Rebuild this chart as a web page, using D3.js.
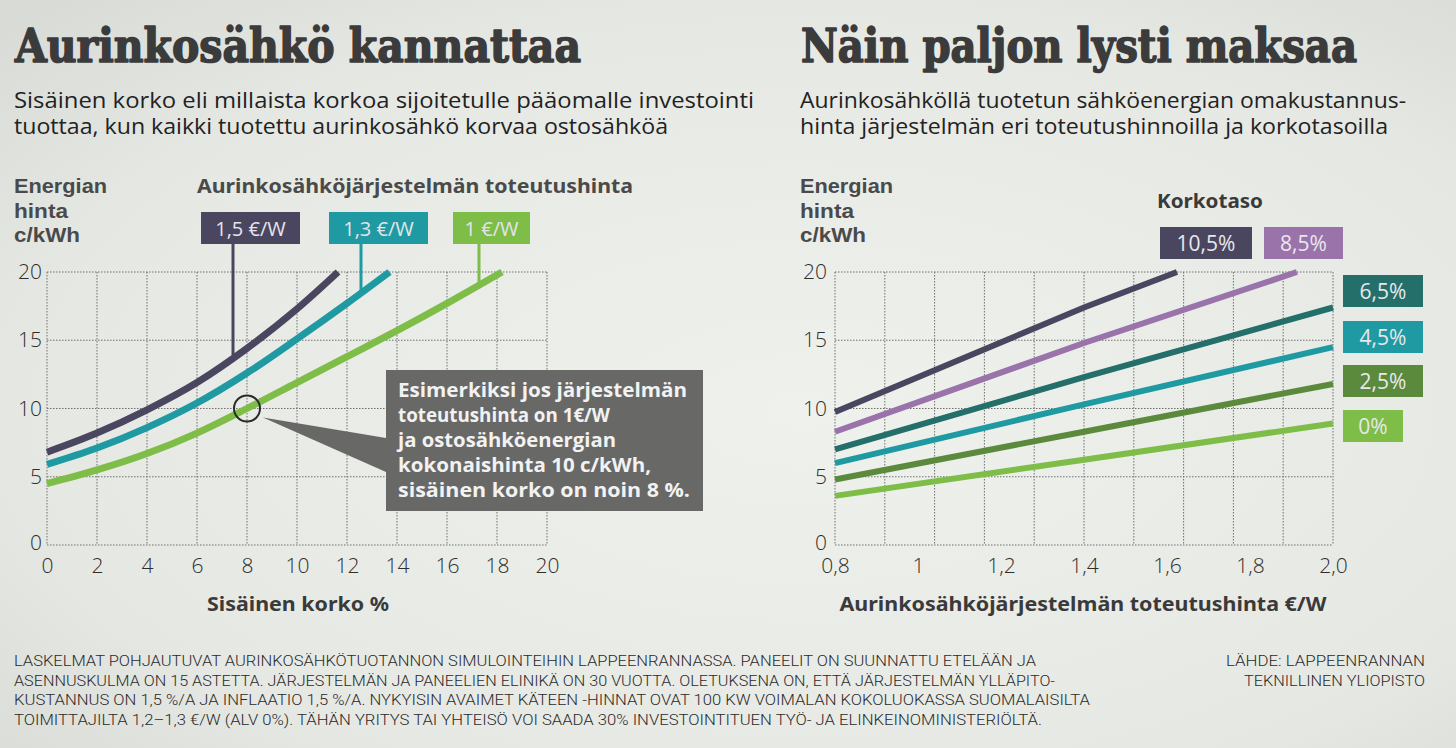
<!DOCTYPE html>
<html><head><meta charset="utf-8">
<script src="https://cdn.jsdelivr.net/npm/d3@7"></script>
<style>html,body{margin:0;padding:0;background:#e8eae6;} svg{display:block}</style>
</head><body><svg id="c" width="1456" height="748"></svg>
<script>
// ---------------- DATA ----------------
// Left chart: energy price (c/kWh) vs internal rate of return (%)
const leftXTicks = [0, 2, 4, 6, 8, 10, 12, 14, 16, 18, 20];
const leftYTicks = [0, 5, 10, 15, 20];
const leftSeriesNames = ["1,5 €/W", "1,3 €/W", "1 €/W"];
const cost15_x = [0, 2, 4, 6, 8, 10, 11.64];
const cost15_y = [6.8, 8.2, 9.9, 11.9, 14.4, 17.3, 20];
const cost13_x = [0, 2, 4, 6, 8, 10, 12, 13.7];
const cost13_y = [5.9, 7.1, 8.6, 10.4, 12.6, 15.1, 17.7, 20];
const cost10_x = [0, 2, 4, 6, 8, 10, 12, 14, 16, 18.2];
const cost10_y = [4.5, 5.5, 6.7, 8.2, 10.0, 11.9, 13.8, 15.7, 17.7, 20];
const leaderX = [7.44, 12.56, 17.28];
const leaderY = [13.9, 18.4, 19.0];
const exampleX = 8, exampleY = 10;

// Right chart: energy price (c/kWh) vs system price (€/W)
const rightXTicks = [0.8, 1.0, 1.2, 1.4, 1.6, 1.8, 2.0];
const rightXLabels = ["0,8", "1", "1,2", "1,4", "1,6", "1,8", "2,0"];
const rightGridX = [0.8, 0.92, 1.04, 1.16, 1.28, 1.40, 1.52, 1.64, 1.76, 1.88, 2.0];
const rightYTicks = [0, 5, 10, 15, 20];
const rateNames = ["10,5%", "8,5%", "6,5%", "4,5%", "2,5%", "0%"];
const rate105_x = [0.8, 1.4, 1.624];
const rate105_y = [9.75, 17.4, 20];
const rate85_x = [0.8, 1.4, 1.913];
const rate85_y = [8.3, 14.8, 20];
const rate65_x = [0.8, 1.4, 2.0];
const rate65_y = [7.0, 12.3, 17.4];
const rate45_x = [0.8, 1.4, 2.0];
const rate45_y = [6.0, 10.3, 14.5];
const rate25_x = [0.8, 1.4, 2.0];
const rate25_y = [4.8, 8.3, 11.8];
const rate0_x = [0.8, 1.4, 2.0];
const rate0_y = [3.6, 6.25, 8.9];

// ---------------- STYLE ----------------
const C = {
  dpurple: "#4b4660", purple: "#9a73aa", dteal: "#246f6a", teal: "#1f9aa2",
  olive: "#5b8a3d", green: "#7dbd48", text: "#333", title: "#3b3b3b"
};

const svg = d3.select("#c");
const defs = svg.append("defs");
const rg = defs.append("radialGradient").attr("id", "paper").attr("cx", "55%").attr("cy", "55%").attr("r", "75%");
rg.append("stop").attr("offset", "0%").attr("stop-color", "#eff1ed");
rg.append("stop").attr("offset", "70%").attr("stop-color", "#e6e8e4");
rg.append("stop").attr("offset", "100%").attr("stop-color", "#d9dbd7");
svg.append("rect").attr("width", 1456).attr("height", 748).attr("fill", "url(#paper)");

function txt(x, y, s, o = {}) {
  const t = svg.append("text").attr("x", x).attr("y", y).text(s)
    .attr("font-family", o.family || "'Open Sans', sans-serif")
    .attr("font-size", o.size || 19)
    .attr("font-weight", o.weight || 400)
    .attr("fill", o.fill || C.text)
    .attr("text-anchor", o.anchor || "start");
  if (o.len) t.attr("textLength", o.len).attr("lengthAdjust", "spacingAndGlyphs");
  if (o.stroke) t.attr("stroke", o.fill).attr("stroke-width", o.stroke).attr("stroke-linejoin", "round");
  return t;
}

// ---------------- TITLES ----------------
const titleFont = "'DejaVu Serif', serif";
txt(15, 62, "Aurinkosähkö kannattaa", {family: titleFont, size: 46, weight: 700, fill: C.title, len: 566, stroke: 1.6});
txt(801, 62, "Näin paljon lysti maksaa", {family: titleFont, size: 46, weight: 700, fill: C.title, len: 556, stroke: 1.6});
const subO = {size: 21, weight: 400, fill: "#222"};
txt(14, 108, "Sisäinen korko eli millaista korkoa sijoitetulle pääomalle investointi", {...subO, len: 740});
txt(14, 134, "tuottaa, kun kaikki tuotettu aurinkosähkö korvaa ostosähköä", {...subO, len: 654});
txt(800, 108, "Aurinkosähköllä tuotetun sähköenergian omakustannus-", {...subO, len: 606});
txt(800, 134, "hinta järjestelmän eri toteutushinnoilla ja korkotasoilla", {...subO, len: 588});

// ---------------- COMMON ----------------
const yTop = 272, yBot = 545;
function grid(g, xs, xScale, yScale, yTicks) {
  const gridStyle = sel => sel.attr("stroke", "#6f6f6f").attr("stroke-width", 1).attr("stroke-dasharray", "1.5,1.5").attr("fill", "none");
  g.selectAll(".vg").data(xs).enter().append("line")
    .attr("x1", d => xScale(d)).attr("x2", d => xScale(d))
    .attr("y1", yScale(20)).attr("y2", yScale(0)).call(gridStyle);
  g.selectAll(".hg").data(yTicks).enter().append("line")
    .attr("y1", d => yScale(d)).attr("y2", d => yScale(d))
    .attr("x1", xScale.range()[0]).attr("x2", xScale.range()[1]).call(gridStyle);
}
const boldFont = "'Noto Sans', sans-serif";
function yTitle(x) {
  const o = {size: 20, weight: 700, fill: "#4a4a4a", family: "'Liberation Sans', Arial, sans-serif"};
  txt(x, 193, "Energian", {...o, len: 93});
  txt(x, 218, "hinta", {...o, len: 54});
  txt(x, 242, "c/kWh", {...o, len: 66});
}
const tickFont = {size: 21, weight: 300, fill: "#2e2e2e", family: "'Open Sans', sans-serif"};
function styleTicks(g) {
  g.select(".domain").remove();
  g.selectAll("text").attr("font-family", tickFont.family).attr("font-size", tickFont.size)
    .attr("font-weight", tickFont.weight).attr("fill", tickFont.fill);
}

// ---------------- LEFT CHART ----------------
const xL = d3.scaleLinear().domain([0, 20]).range([47, 547]);
const yL = d3.scaleLinear().domain([0, 20]).range([yBot, yTop]);
const gL = svg.append("g");
grid(gL, leftXTicks, xL, yL, leftYTicks);

const gyL = svg.append("g").attr("transform", "translate(47,0)")
  .call(d3.axisLeft(yL).tickValues(leftYTicks).tickSize(0).tickPadding(5));
styleTicks(gyL);
gyL.selectAll(".tick").filter(d => d === 0).select("text").attr("dy", "0.2em");
const gxL = svg.append("g").attr("transform", `translate(0,${yBot})`)
  .call(d3.axisBottom(xL).tickValues(leftXTicks).tickSize(0).tickPadding(13));
styleTicks(gxL);

yTitle(14);
txt(197, 193, "Aurinkosähköjärjestelmän toteutushinta", {size: 19, weight: 700, fill: "#4a4a4a", family: boldFont, len: 436});
txt(298, 611, "Sisäinen korko %", {size: 20, weight: 700, fill: "#3a3a3a", family: boldFont, anchor: "middle", len: 182});

const leftSeries = [
  {name: leftSeriesNames[0], xs: cost15_x, ys: cost15_y, color: C.dpurple, box: [201, 300]},
  {name: leftSeriesNames[1], xs: cost13_x, ys: cost13_y, color: C.teal, box: [329, 428]},
  {name: leftSeriesNames[2], xs: cost10_x, ys: cost10_y, color: C.green, box: [453, 530]}
];
const lineL = d3.line().x(d => xL(d[0])).y(d => yL(d[1])).curve(d3.curveCatmullRom.alpha(0.5));
leftSeries.forEach((s, i) => {
  // leader line
  gL.append("line").attr("x1", xL(leaderX[i])).attr("x2", xL(leaderX[i]))
    .attr("y1", 244).attr("y2", yL(leaderY[i])).attr("stroke", s.color).attr("stroke-width", 3);
  gL.append("path").datum(d3.zip(s.xs, s.ys)).attr("d", lineL)
    .attr("fill", "none").attr("stroke", s.color).attr("stroke-width", 7);
  gL.append("rect").attr("x", s.box[0]).attr("y", 212).attr("width", s.box[1] - s.box[0]).attr("height", 32).attr("fill", s.color);
  txt((s.box[0] + s.box[1]) / 2, 236, s.name, {size: 20, weight: 400, fill: "#e4e4ea", anchor: "middle"});
});

// example callout
const cx = xL(exampleX), cy = yL(exampleY);
gL.append("path").attr("d", `M${cx + 16},${cy + 9} L386,438 L386,472 Z`).attr("fill", "#686967");
gL.append("circle").attr("cx", cx).attr("cy", cy).attr("r", 13).attr("fill", "none").attr("stroke", "#2a2a2a").attr("stroke-width", 2);
gL.append("rect").attr("x", 386).attr("y", 370).attr("width", 317).attr("height", 141).attr("fill", "#686967");
const calloutLines = ["Esimerkiksi jos järjestelmän", "toteutushinta on 1€/W", "ja ostosähköenergian", "kokonaishinta 10 c/kWh,", "sisäinen korko on noin 8 %."];
const calloutLens = [289, 212, 218, 253, 292];
calloutLines.forEach((l, i) => txt(398, 397 + i * 25, l, {size: 20, weight: 700, fill: "#f2f2f2", len: calloutLens[i]}));

// ---------------- RIGHT CHART ----------------
const xR = d3.scaleLinear().domain([0.8, 2.0]).range([835, 1333]);
const yR = d3.scaleLinear().domain([0, 20]).range([yBot, yTop]);
const gR = svg.append("g");
grid(gR, rightGridX, xR, yR, rightYTicks);

const gyR = svg.append("g").attr("transform", "translate(835,0)")
  .call(d3.axisLeft(yR).tickValues(rightYTicks).tickSize(0).tickPadding(8));
styleTicks(gyR);
gyR.selectAll(".tick").filter(d => d === 0).select("text").attr("dy", "0.2em");
const gxR = svg.append("g").attr("transform", `translate(0,${yBot})`)
  .call(d3.axisBottom(xR).tickValues(rightXTicks).tickFormat((d, i) => rightXLabels[i]).tickSize(0).tickPadding(13));
styleTicks(gxR);

yTitle(800);
txt(1157, 208, "Korkotaso", {size: 19, weight: 700, fill: "#3a3a3a", family: boldFont, len: 106});
txt(1083, 611, "Aurinkosähköjärjestelmän toteutushinta €/W", {size: 20, weight: 700, fill: "#3a3a3a", family: boldFont, anchor: "middle", len: 487});

const rightSeries = [
  {xs: rate105_x, ys: rate105_y, color: C.dpurple, box: [1160, 227, 92]},
  {xs: rate85_x, ys: rate85_y, color: C.purple, box: [1264, 227, 79]},
  {xs: rate65_x, ys: rate65_y, color: C.dteal, box: [1343, 275, 80]},
  {xs: rate45_x, ys: rate45_y, color: C.teal, box: [1343, 321, 80]},
  {xs: rate25_x, ys: rate25_y, color: C.olive, box: [1343, 365, 80]},
  {xs: rate0_x, ys: rate0_y, color: C.green, box: [1343, 410, 60]}
];
const lineR = d3.line().x(d => xR(d[0])).y(d => yR(d[1]));
rightSeries.forEach((s, i) => {
  gR.append("path").datum(d3.zip(s.xs, s.ys)).attr("d", lineR)
    .attr("fill", "none").attr("stroke", s.color).attr("stroke-width", 6);
  gR.append("rect").attr("x", s.box[0]).attr("y", s.box[1]).attr("width", s.box[2]).attr("height", 32).attr("fill", s.color);
  txt(s.box[0] + s.box[2] / 2, s.box[1] + 24, rateNames[i], {size: 21, weight: 400, fill: "#e8e8ec", anchor: "middle"});
});

// ---------------- FOOTER ----------------
const footFont = {size: 14, weight: 300, fill: "#2a2a2a", family: "'Liberation Sans Narrow', 'Roboto', sans-serif"};
const footLines = [
  "LASKELMAT  POHJAUTUVAT AURINKOSÄHKÖTUOTANNON SIMULOINTEIHIN LAPPEENRANNASSA. PANEELIT ON SUUNNATTU ETELÄÄN JA",
  "ASENNUSKULMA ON 15 ASTETTA. JÄRJESTELMÄN JA PANEELIEN ELINIKÄ ON 30 VUOTTA. OLETUKSENA ON, ETTÄ JÄRJESTELMÄN YLLÄPITO-",
  "KUSTANNUS ON 1,5 %/A JA INFLAATIO 1,5 %/A. NYKYISIN AVAIMET KÄTEEN -HINNAT OVAT 100 KW VOIMALAN KOKOLUOKASSA SUOMALAISILTA",
  "TOIMITTAJILTA 1,2–1,3 €/W (ALV 0%). TÄHÄN YRITYS TAI YHTEISÖ VOI SAADA 30% INVESTOINTITUEN TYÖ- JA ELINKEINOMINISTERIÖLTÄ."
];
const footLens = [1022, 1041, 1076, 1028];
footLines.forEach((l, i) => txt(14, 666 + i * 19.5, l, {...footFont, len: footLens[i]}));
txt(1425, 666, "LÄHDE: LAPPEENRANNAN", {...footFont, anchor: "end", len: 199});
txt(1425, 685.5, "TEKNILLINEN YLIOPISTO", {...footFont, anchor: "end", len: 181});
</script></body></html>
